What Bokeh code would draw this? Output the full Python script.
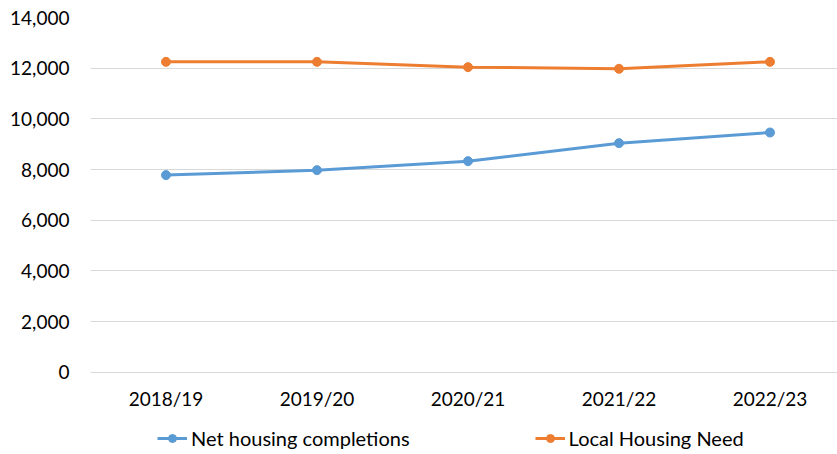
from bokeh.plotting import figure
from bokeh.models import FixedTicker, Legend, LegendItem, NumeralTickFormatter, Range1d
from bokeh.embed import file_html
from bokeh.resources import INLINE

years = ["2018/19", "2019/20", "2020/21", "2021/22", "2022/23"]
completions = [7780, 7975, 8330, 9040, 9460]
housing_need = [12250, 12250, 12040, 11975, 12250]
y_ticks = [0, 2000, 4000, 6000, 8000, 10000, 12000, 14000]

BLUE = "#5B9BD5"
ORANGE = "#ED7D31"
FONT = "Lato"

xs = list(range(len(years)))

W, H = 837, 454
LEFT, TOP = 90, 17
FRAME_W = W - LEFT
PX_PER_UNIT = 354.7 / 14000.0
Y_START = -(H - TOP - 354.7) / PX_PER_UNIT

p = figure(width=W, height=H, output_backend="svg", toolbar_location=None,
           x_range=Range1d(-0.5, -0.5 + FRAME_W / 151), y_range=Range1d(Y_START, 14000),
           min_border_left=LEFT, min_border_right=0, min_border_top=TOP, min_border_bottom=0)
p.outline_line_color = None
p.background_fill_color = "white"
p.border_fill_color = "white"

r1l = p.line(xs, completions, line_color=BLUE, line_width=3)
r1s = p.scatter(xs, completions, size=9, fill_color=BLUE, line_color=BLUE)
r2l = p.line(xs, housing_need, line_color=ORANGE, line_width=3)
r2s = p.scatter(xs, housing_need, size=9, fill_color=ORANGE, line_color=ORANGE)

p.xgrid.grid_line_color = None
p.ygrid.grid_line_color = "#D9D9D9"
p.ygrid.grid_line_width = 1
p.yaxis.ticker = FixedTicker(ticks=y_ticks)
p.yaxis.formatter = NumeralTickFormatter(format="0,0")
p.xaxis.ticker = FixedTicker(ticks=xs)
p.xaxis.major_label_overrides = {i: y for i, y in enumerate(years)}
p.xaxis.fixed_location = 0

for ax in (p.xaxis, p.yaxis):
    ax.axis_line_color = None
    ax.major_tick_line_color = None
    ax.minor_tick_line_color = None
    ax.major_tick_in = 0
    ax.major_tick_out = 0
    ax.major_label_text_font = FONT
    ax.major_label_text_font_size = "19px"
    ax.major_label_text_color = "black"
p.yaxis.major_label_standoff = 21
p.xaxis.major_label_standoff = 15

legend = Legend(items=[LegendItem(label="Net housing completions", renderers=[r1l, r1s]),
                       LegendItem(label="Local Housing Need", renderers=[r2l, r2s])],
                location=(67, 4), orientation="horizontal", padding=0, margin=0, spacing=125,
                glyph_width=30, glyph_height=20, label_height=20, label_standoff=4,
                label_text_font=FONT, label_text_font_size="20px", label_text_color="black",
                border_line_color=None, background_fill_alpha=0)
p.add_layout(legend, "center")

open("out.html", "w").write(file_html(p, INLINE))
